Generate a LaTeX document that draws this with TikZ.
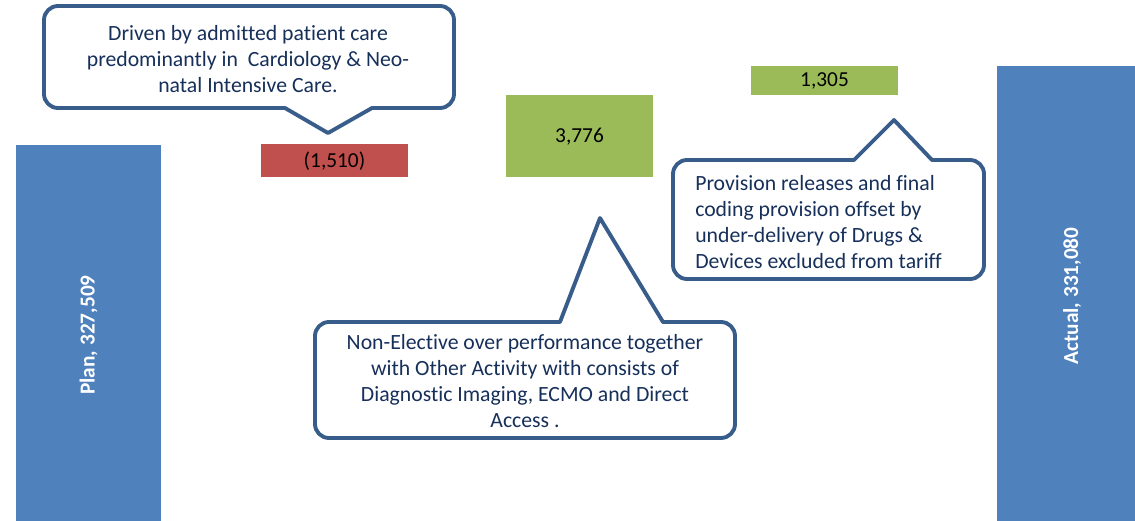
\documentclass[tikz,border=0pt]{standalone}
\usepackage{fontspec}
\setmainfont{Carlito}[Ligatures=CommonOff]
\definecolor{barblue}{HTML}{4F81BD}
\definecolor{barred}{HTML}{C0504D}
\definecolor{bargreen}{HTML}{9BBB59}
\definecolor{coline}{HTML}{385D8A}
\definecolor{cotext}{HTML}{17305A}
\tikzset{
  co/.style={draw=coline, line width=2.9pt, fill=white, line join=round},
  cotxt/.style={text=cotext, font=\fontsize{16.3}{19.7}\selectfont, inner sep=0pt},
  numtxt/.style={text=black, font=\fontsize{16}{19.5}\selectfont, inner sep=0pt},
  bartxt/.style={text=white, font=\bfseries\fontsize{16}{19.5}\selectfont, inner sep=0pt, rotate=90},
}
\newcommand{\cobottom}[8]{% L R T B bl br tx ty
  \draw[co] ({#1+14},#3) -- ({#2-14},#3) arc(270:360:14) -- (#2,{#4-14}) arc(0:90:14)
    -- (#6,#4) -- (#7,#8) -- (#5,#4) -- ({#1+14},#4) arc(90:180:14)
    -- (#1,{#3+14}) arc(180:270:14) -- cycle;}
\newcommand{\cotop}[8]{% L R T B bl br tx ty
  \draw[co] ({#1+14},#3) -- (#5,#3) -- (#7,#8) -- (#6,#3) -- ({#2-14},#3) arc(270:360:14)
    -- (#2,{#4-14}) arc(0:90:14) -- ({#1+14},#4) arc(90:180:14)
    -- (#1,{#3+14}) arc(180:270:14) -- cycle;}
\begin{document}
\begin{tikzpicture}[x=0.75pt,y=-0.75pt]
\useasboundingbox (0,0) rectangle (1135,521);
% bars
\fill[barblue] (16,145) rectangle (161,521);
\node[bartxt] (planlbl) at (88.5,335) {Plan, 327,509};
\fill[barred] (261,144) rectangle (408,177);
\node[numtxt] (redlbl) at (334.5,161) {(1,510)};
\fill[bargreen] (506,95) rectangle (653,177);
\node[numtxt] (g1lbl) at (579.5,137) {3,776};
\fill[bargreen] (751,66) rectangle (898,95);
\node[numtxt] (g2lbl) at (824.5,81) {1,305};
\fill[barblue] (997,66) rectangle (1147,521);
\node[bartxt] (actlbl) at (1072,296) {Actual, 331,080};
% callouts
\cobottom{44}{454}{6}{108}{285}{372}{328}{133}
\node[cotxt, align=center] (c1) at (248,59) {Driven by admitted patient care\\predominantly in\ \ Cardiology \& Neo-\\natal Intensive Care.};
\cotop{673}{984}{160}{279}{854}{932}{894}{120}
\node[cotxt, align=left, anchor=west] (c2) at (695,222) {Provision releases and final\\coding provision offset by\\under-delivery of Drugs \&\\Devices excluded from tariff};
\cotop{315}{735}{322}{438}{560}{663}{600}{218}
\node[cotxt, align=center] (c3) at (525,381) {Non-Elective over performance together\\with Other Activity with consists of\\Diagnostic Imaging, ECMO and Direct\\Access .};
\end{tikzpicture}
\end{document}
